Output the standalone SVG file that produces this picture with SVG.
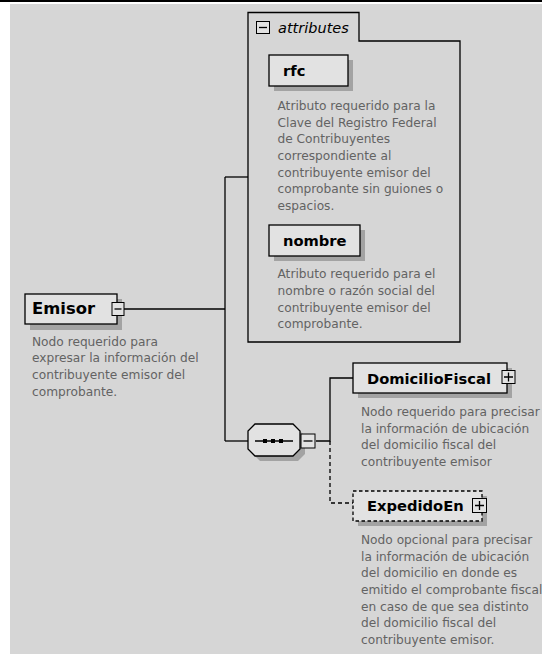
<svg xmlns="http://www.w3.org/2000/svg" width="542" height="654" viewBox="0 0 542 654">
<style>
.bg{fill:#d6d6d6}
.box{fill:#e2e2e2;stroke:#000;stroke-width:1.3}
.dbox{fill:#e2e2e2;stroke:#000;stroke-width:1.3;stroke-dasharray:3.5,2.5}
.sh{fill:#a3a3a3}
.ln{fill:none;stroke:#000;stroke-width:1.3}
.dl{fill:none;stroke:#000;stroke-width:1.3;stroke-dasharray:4,3}
.icon{fill:#e2e2e2;stroke:#000;stroke-width:1}
.name{font-family:"DejaVu Sans",Verdana,sans-serif;font-weight:bold;font-size:14.7px;fill:#000}
.desc{font-family:"DejaVu Sans",Verdana,sans-serif;font-size:12.2px;fill:#636363}
.attr{font-family:"DejaVu Sans",Verdana,sans-serif;font-style:italic;font-size:14.5px;fill:#000}
</style>
<rect x="0" y="0" width="542" height="654" fill="#fff"/>
<rect class="bg" x="10" y="4" width="532" height="650"/>
<rect x="0" y="0" width="542" height="2" fill="#000"/>

<g id="connectors">
<path class="ln" d="M124,309 H225"/>
<path class="ln" d="M225,177 V441"/>
<path class="ln" d="M225,177 H248"/>
<path class="ln" d="M225,441 H248"/>
<path class="ln" d="M316,441 H330 V378 H353"/>
<path class="dl" d="M330,441 V503 H353"/>
</g>

<g id="attributes">
<path class="ln" d="M248,342 V12.5 H359 V41 H460 V342 Z"/>
<rect class="icon" x="256.5" y="21.5" width="13" height="12"/>
<path class="ln" d="M259,27.5 H267"/>
<text class="attr" x="278" y="32.5">attributes</text>
</g>

<g id="rfc">
<rect class="sh" x="274" y="60" width="79" height="31"/>
<rect class="box" x="269" y="55" width="79" height="31"/>
<text class="name" x="283" y="75.5">rfc</text>
<text class="desc" x="277.5" y="110">Atributo requerido para la</text>
<text class="desc" x="277.5" y="126.7">Clave del Registro Federal</text>
<text class="desc" x="277.5" y="143.3">de Contribuyentes</text>
<text class="desc" x="277.5" y="160">correspondiente al</text>
<text class="desc" x="277.5" y="176.7">contribuyente emisor del</text>
<text class="desc" x="277.5" y="193.3">comprobante sin guiones o</text>
<text class="desc" x="277.5" y="210">espacios.</text>
</g>

<g id="nombre">
<rect class="sh" x="274" y="230" width="91" height="31"/>
<rect class="box" x="269" y="225" width="91" height="31"/>
<text class="name" x="283" y="245.5">nombre</text>
<text class="desc" x="277.5" y="278.3">Atributo requerido para el</text>
<text class="desc" x="277.5" y="295">nombre o razón social del</text>
<text class="desc" x="277.5" y="311.7">contribuyente emisor del</text>
<text class="desc" x="277.5" y="328.3">comprobante.</text>
</g>

<g id="Emisor">
<rect class="sh" x="30" y="299" width="92" height="31"/>
<rect class="box" x="25" y="294" width="92" height="30"/>
<rect class="icon" x="112" y="302.5" width="12" height="13"/>
<path class="ln" d="M114.5,309 H121.5"/>
<text class="name" x="32" y="314" style="font-size:15.5px" textLength="63" lengthAdjust="spacingAndGlyphs">Emisor</text>
<text class="desc" x="32" y="345.5">Nodo requerido para</text>
<text class="desc" x="32" y="362.2">expresar la información del</text>
<text class="desc" x="32" y="378.8">contribuyente emisor del</text>
<text class="desc" x="32" y="395.5">comprobante.</text>
</g>

<g id="sequence">
<polygon class="sh" points="260,429 298,429 305,436 305,454 298,461 260,461 253,454 253,436"/>
<polygon class="box" points="255,424 293,424 300,431 300,449 293,456 255,456 248,449 248,431"/>
<path class="ln" d="M255,441 H293"/>
<rect x="263" y="439" width="4" height="4" fill="#000"/>
<rect x="271" y="439" width="4" height="4" fill="#000"/>
<rect x="279" y="439" width="4" height="4" fill="#000"/>
<rect class="icon" x="301" y="434" width="14" height="14"/>
<path class="ln" d="M303.5,441 H312.5"/>
</g>

<g id="DomicilioFiscal">
<rect class="sh" x="358" y="368" width="154" height="30"/>
<rect class="box" x="353" y="363" width="154" height="30"/>
<rect class="icon" x="502" y="370.5" width="13" height="13"/>
<path class="ln" d="M504,377 H513 M508.5,372.5 V381.5"/>
<text class="name" x="367" y="383.5">DomicilioFiscal</text>
<text class="desc" x="361" y="416">Nodo requerido para precisar</text>
<text class="desc" x="361" y="432.7">la información de ubicación</text>
<text class="desc" x="361" y="449.3">del domicilio fiscal del</text>
<text class="desc" x="361" y="466">contribuyente emisor</text>
</g>

<g id="ExpedidoEn">
<rect class="sh" x="358" y="496" width="129" height="30"/>
<rect class="dbox" x="353" y="491" width="129" height="30"/>
<rect class="icon" x="472.5" y="498.5" width="14" height="14"/>
<path class="ln" d="M475,505.5 H484 M479.5,501 V510"/>
<text class="name" x="367" y="510.5">ExpedidoEn</text>
<text class="desc" x="361" y="544">Nodo opcional para precisar</text>
<text class="desc" x="361" y="560.7">la información de ubicación</text>
<text class="desc" x="361" y="577.3">del domicilio en donde es</text>
<text class="desc" x="361" y="594">emitido el comprobante fiscal</text>
<text class="desc" x="361" y="610.7">en caso de que sea distinto</text>
<text class="desc" x="361" y="627.3">del domicilio fiscal del</text>
<text class="desc" x="361" y="644">contribuyente emisor.</text>
</g>
</svg>
